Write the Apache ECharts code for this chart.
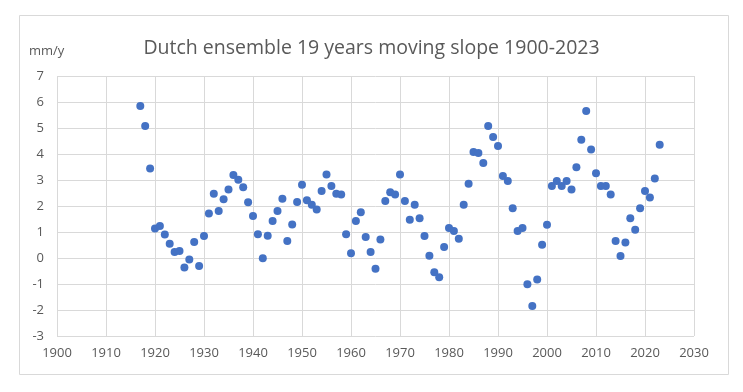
<!DOCTYPE html>
<html>
<head>
<meta charset="utf-8">
<script src="https://cdn.jsdelivr.net/npm/echarts@6/dist/echarts.min.js"></script>
<style>html,body{margin:0;padding:0;background:#fff;}#c{width:743px;height:392px;}</style>
</head>
<body>
<div id="c"></div>
<script>
const years = [];
for (let y = 1917; y <= 2023; y++) years.push(y);
const slopes = [
  5.85, 5.08, 3.44, 1.13, 1.23, 0.90, 0.55, 0.23, 0.27, -0.37,
  -0.06, 0.62, -0.31, 0.85, 1.71, 2.47, 1.81, 2.26, 2.63, 3.19,
  3.01, 2.72, 2.14, 1.62, 0.91, -0.01, 0.86, 1.42, 1.81, 2.28,
  0.65, 1.29, 2.15, 2.82, 2.22, 2.05, 1.87, 2.58, 3.21, 2.77,
  2.47, 2.44, 0.91, 0.18, 1.42, 1.76, 0.81, 0.23, -0.41, 0.71,
  2.19, 2.53, 2.44, 3.21, 2.19, 1.47, 2.05, 1.53, 0.85, 0.09,
  -0.55, -0.74, 0.42, 1.15, 1.04, 0.74, 2.05, 2.86, 4.08, 4.04,
  3.65, 5.08, 4.65, 4.31, 3.15, 2.96, 1.91, 1.04, 1.15, -1.01,
  -1.85, -0.83, 0.51, 1.28, 2.77, 2.96, 2.77, 2.96, 2.63, 3.49,
  4.55, 5.65, 4.17, 3.26, 2.77, 2.77, 2.44, 0.65, 0.08, 0.60,
  1.53, 1.09, 1.91, 2.58, 2.33, 3.06, 4.36
];
const titleText = 'Dutch ensemble 19 years moving slope 1900-2023';
const unitText = 'mm/y';

const chart = echarts.init(document.getElementById('c'), null, {renderer: 'canvas'});
const font = '"Open Sans", "Liberation Sans", sans-serif';
chart.setOption({
  backgroundColor: '#ffffff',
  animation: false,
  title: {
    text: titleText,
    left: 'center',
    top: 33,
    textStyle: {fontFamily: font, fontSize: 19.5, fontWeight: 'normal', color: '#595959'}
  },
  graphic: [
    {type: 'rect', shape: {x: 19.5, y: 15.5, width: 709, height: 359}, style: {fill: 'none', stroke: '#d9d9d9', lineWidth: 1}, z: -1},
    {type: 'text', left: 29, top: 45, style: {text: unitText, font: '13px ' + font, fill: '#595959'}}
  ],
  grid: {left: 57, right: 49, top: 76, bottom: 56, containLabel: false},
  xAxis: {
    type: 'value', min: 1900, max: 2030, interval: 10,
    axisLine: {show: false}, axisTick: {show: false},
    splitLine: {show: true, lineStyle: {color: '#d9d9d9', width: 1}},
    axisLabel: {color: '#595959', fontFamily: font, fontSize: 13, margin: 11, formatter: v => String(v)}
  },
  yAxis: {
    type: 'value', min: -3, max: 7, interval: 1,
    axisLine: {show: false}, axisTick: {show: false},
    splitLine: {show: true, lineStyle: {color: '#d9d9d9', width: 1}},
    axisLabel: {color: '#595959', fontFamily: font, fontSize: 13, margin: 13}
  },
  series: [{
    type: 'scatter',
    data: years.map((y, i) => [y, slopes[i]]),
    symbol: 'circle',
    symbolSize: 8,
    itemStyle: {color: '#4472C4', opacity: 1}
  }]
});
</script>
</body>
</html>
